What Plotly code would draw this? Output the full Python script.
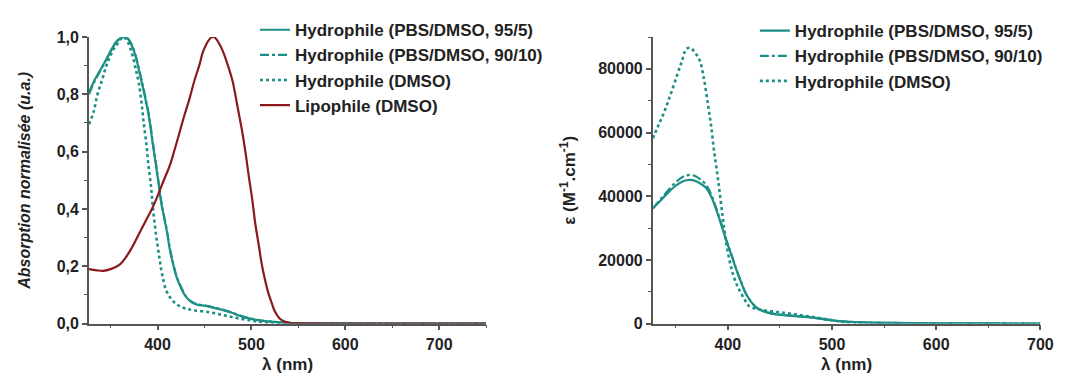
import plotly.graph_objects as go

TEAL = "#1c8f86"
RED = "#8b1a1d"
AX = "#555555"

# ---------- Left panel: normalised absorption ----------
wl_h95 = [327, 333, 339, 345, 350, 356, 360, 364, 368, 372, 376, 381, 386, 391, 395, 398, 401, 404, 407, 410, 413, 416, 420, 425, 430, 436, 442, 451, 460, 470, 480, 486, 495, 505, 515, 521, 530, 545, 560, 600, 650, 700, 750]
ab_h95 = [0.807, 0.85, 0.885, 0.92, 0.951, 0.984, 0.995, 1.0, 0.995, 0.975, 0.94, 0.873, 0.80, 0.718, 0.625, 0.56, 0.49, 0.42, 0.37, 0.32, 0.26, 0.215, 0.165, 0.125, 0.095, 0.075, 0.066, 0.062, 0.055, 0.047, 0.037, 0.029, 0.020, 0.013, 0.009, 0.007, 0.004, 0.002, 0.001, 0.0005, 0.0, 0.0, 0.0]

wl_h90 = [327, 333, 339, 345, 350, 356, 360, 364, 368, 372, 376, 381, 386, 391, 395, 398, 401, 404, 407, 410, 413, 416, 420, 425, 430, 436, 442, 451, 460, 470, 480, 486, 495, 505, 515, 521, 530, 545, 560, 600, 650, 700, 750]
ab_h90 = [0.80, 0.845, 0.882, 0.918, 0.949, 0.982, 0.994, 1.0, 0.996, 0.977, 0.943, 0.878, 0.806, 0.724, 0.632, 0.566, 0.496, 0.426, 0.375, 0.325, 0.265, 0.22, 0.168, 0.128, 0.097, 0.077, 0.068, 0.063, 0.056, 0.048, 0.038, 0.03, 0.021, 0.014, 0.009, 0.007, 0.004, 0.002, 0.001, 0.0005, 0.0, 0.0, 0.0]

wl_hd = [327, 332, 336, 341, 345, 349, 353, 357, 361, 364, 368, 373, 377, 380, 383, 385, 388, 390, 393, 395, 398, 402, 405, 409, 414, 420, 426, 432, 440, 455, 468, 479, 490, 500, 507, 515, 530, 560, 600, 700, 750]
ab_hd = [0.696, 0.74, 0.80, 0.851, 0.895, 0.929, 0.957, 0.975, 0.994, 1.0, 0.985, 0.94, 0.885, 0.84, 0.77, 0.707, 0.63, 0.562, 0.48, 0.407, 0.32, 0.229, 0.17, 0.118, 0.088, 0.068, 0.057, 0.051, 0.046, 0.04, 0.031, 0.023, 0.016, 0.011, 0.007, 0.004, 0.002, 0.001, 0.0, 0.0, 0.0]

wl_lip = [327, 335, 342, 350, 360, 367, 374, 381, 388, 394, 400, 406, 413, 418, 423, 428, 434, 439, 445, 448, 452, 456, 459, 462, 466, 469, 474, 480, 485, 490, 494, 497, 501, 504, 508, 511, 515, 518, 522, 525, 530, 536, 542, 550, 600, 650, 700, 750]
ab_lip = [0.19, 0.186, 0.184, 0.19, 0.207, 0.235, 0.273, 0.318, 0.362, 0.40, 0.445, 0.495, 0.551, 0.605, 0.662, 0.72, 0.784, 0.845, 0.907, 0.945, 0.975, 0.995, 1.0, 0.995, 0.975, 0.955, 0.91, 0.845, 0.76, 0.673, 0.59, 0.518, 0.43, 0.351, 0.27, 0.207, 0.145, 0.107, 0.068, 0.042, 0.018, 0.006, 0.002, 0.001, 0.0, 0.0, 0.0, 0.0]

# ---------- Right panel: molar absorption coefficient ----------
wl_e95 = [328, 335, 342, 350, 357, 363, 368, 374, 379, 384, 389, 393, 398, 403, 408, 413, 417, 422, 427, 433, 442, 455, 474, 490, 505, 520, 537, 560, 600, 650, 700]
ep_e95 = [36130, 38500, 40900, 43300, 44700, 45130, 44900, 43900, 42640, 39900, 35640, 31800, 26630, 22000, 17100, 12800, 9610, 7000, 5100, 4000, 3090, 2600, 2100, 1500, 810, 500, 300, 200, 100, 50, 0]

wl_e90 = [328, 335, 342, 350, 357, 363, 368, 374, 379, 384, 389, 393, 398, 403, 408, 413, 417, 422, 427, 433, 442, 455, 474, 490, 505, 520, 537, 560, 600, 650, 700]
ep_e90 = [36130, 38900, 41600, 44400, 46100, 46700, 46400, 45200, 43600, 40600, 36100, 32100, 26800, 22100, 17200, 12900, 9700, 7100, 5200, 4100, 3200, 2700, 2150, 1550, 850, 520, 320, 210, 110, 50, 0]

wl_ed = [328, 333, 338, 344, 351, 356, 360, 364, 368, 373, 377, 381, 384, 387, 390, 392, 395, 397, 400, 404, 408, 411, 416, 420, 428, 436, 448, 461, 475, 490, 505, 521, 550, 600, 650, 700]
ep_ed = [58170, 62000, 65680, 71000, 77690, 82500, 86190, 86600, 85300, 82670, 77000, 68680, 62000, 53660, 46800, 41650, 33800, 28620, 22500, 16600, 12700, 10600, 7600, 5620, 4600, 4110, 3600, 3100, 2400, 1600, 800, 300, 150, 50, 0, 0]

x_ticks_left = [400, 500, 600, 700]
y_ticks_left = [0.0, 0.2, 0.4, 0.6, 0.8, 1.0]
y_ticklabels_left = ["0,0", "0,2", "0,4", "0,6", "0,8", "1,0"]
x_ticks_right = [400, 500, 600, 700]
y_ticks_right = [0, 20000, 40000, 60000, 80000]
y_ticklabels_right = ["0", "20000", "40000", "60000", "80000"]

names = ["Hydrophile (PBS/DMSO, 95/5)", "Hydrophile (PBS/DMSO, 90/10)",
         "Hydrophile (DMSO)", "Lipophile (DMSO)"]

fig = go.Figure()
lw = 2.2
fig.add_trace(go.Scatter(x=wl_h95, y=ab_h95, mode="lines", name=names[0],
                         line=dict(color=TEAL, width=lw, shape="spline"), xaxis="x", yaxis="y", legend="legend"))
fig.add_trace(go.Scatter(x=wl_h90, y=ab_h90, mode="lines", name=names[1],
                         line=dict(color=TEAL, width=lw, dash="dashdot", shape="spline"), xaxis="x", yaxis="y", legend="legend"))
fig.add_trace(go.Scatter(x=wl_hd, y=ab_hd, mode="lines", name=names[2],
                         line=dict(color=TEAL, width=2.6, dash="dot", shape="spline"), xaxis="x", yaxis="y", legend="legend"))
fig.add_trace(go.Scatter(x=wl_lip, y=ab_lip, mode="lines", name=names[3],
                         line=dict(color=RED, width=lw, shape="spline"), xaxis="x", yaxis="y", legend="legend"))

fig.add_trace(go.Scatter(x=wl_e95, y=ep_e95, mode="lines", name=names[0],
                         line=dict(color=TEAL, width=lw, shape="spline"), xaxis="x2", yaxis="y2", legend="legend2"))
fig.add_trace(go.Scatter(x=wl_e90, y=ep_e90, mode="lines", name=names[1],
                         line=dict(color=TEAL, width=lw, dash="dashdot", shape="spline"), xaxis="x2", yaxis="y2", legend="legend2"))
fig.add_trace(go.Scatter(x=wl_ed, y=ep_ed, mode="lines", name=names[2],
                         line=dict(color=TEAL, width=2.6, dash="dot", shape="spline"), xaxis="x2", yaxis="y2", legend="legend2"))

FONT = "Liberation Sans, Arial, sans-serif"
TXT = "#222222"
tickfont = dict(family=FONT, size=16, color=TXT, weight="bold")

def xax(domain, rng, ticks, anchor):
    return dict(domain=domain, range=rng, anchor=anchor, tickvals=ticks,
                ticks="outside", ticklen=5, tickwidth=1.5, tickcolor=AX,
                showline=True, linecolor=AX, linewidth=1.8, showgrid=False, zeroline=False,
                minor=dict(dtick=50, tick0=0, ticks="outside", ticklen=3, tickcolor=AX, tickwidth=1.2),
                tickfont=tickfont,
                title=dict(text="λ (nm)", font=dict(family=FONT, size=17, color=TXT, weight="bold"), standoff=6))

def yax(domain, rng, ticks, labels, anchor, title, minor_dtick, standoff, tsize, style="normal"):
    return dict(domain=domain, range=rng, anchor=anchor, tickvals=ticks, ticktext=labels,
                ticks="outside", ticklen=5, tickwidth=1.5, tickcolor=AX,
                showline=True, linecolor=AX, linewidth=1.8, showgrid=False, zeroline=False,
                minor=dict(dtick=minor_dtick, ticks="outside", ticklen=3, tickcolor=AX, tickwidth=1.2),
                tickfont=tickfont,
                title=dict(text=title, font=dict(family=FONT, size=tsize, color=TXT, weight="bold", style=style),
                           standoff=standoff))

ydom = [58 / 380, 358 / 380]
legfont = dict(family=FONT, size=17, color=TXT, weight="bold")
fig.update_layout(
    width=1076, height=380,
    margin=dict(l=0, r=0, t=0, b=0),
    paper_bgcolor="white", plot_bgcolor="white",
    xaxis=xax([82 / 1076, 484 / 1076], [327, 750], x_ticks_left, "y"),
    yaxis=yax(ydom, [0, 1.0], y_ticks_left, y_ticklabels_left, "x",
              "Absorption normalisée (u.a.)", 0.1, 22, 16, "italic"),
    xaxis2=xax([652.7 / 1076, 1045 / 1076], [328, 700], x_ticks_right, "y2"),
    yaxis2=yax(ydom, [0, 90000], y_ticks_right, y_ticklabels_right, "x2",
               "ε (M<sup>-1</sup>.cm<sup>-1</sup>)", 10000, 18, 17),
    legend=dict(x=250 / 1076, y=1 + 4 / 380, xanchor="left", yanchor="top",
                bgcolor="rgba(0,0,0,0)", tracegroupgap=0, itemwidth=30,
                font=legfont),
    legend2=dict(x=756 / 1076, y=1 + 3 / 380, xanchor="left", yanchor="top",
                 bgcolor="rgba(0,0,0,0)", tracegroupgap=0, itemwidth=30,
                 font=legfont),
)

fig.write_html("out.html")
